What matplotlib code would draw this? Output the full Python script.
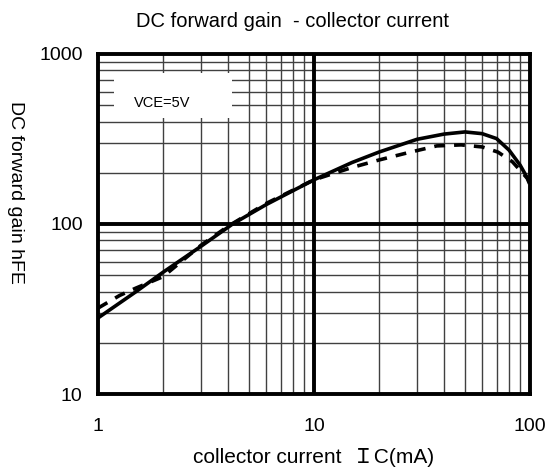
import matplotlib
matplotlib.use('Agg')
import matplotlib.pyplot as plt
import numpy as np

# collector current (mA) vs hFE
ic_solid = [1, 1.5, 2, 3, 4.2, 6, 10, 15, 20, 30, 40, 50, 60, 70, 80, 90, 100]
hfe_solid = [28, 40, 52, 74, 100, 130, 182, 230, 265, 315, 338, 348, 340, 318, 272, 222, 175]
ic_dash = [1, 1.26, 1.5, 2, 3, 4, 6, 10, 15, 20, 27, 37, 48, 60, 71, 83, 97, 100]
hfe_dash = [32, 38, 42, 49, 75, 97, 132, 182, 215, 238, 262, 288, 292, 284, 265, 232, 186, 170]

xticks = [1, 10, 100]
yticks = [10, 100, 1000]

plt.rcParams['font.family'] = ['Liberation Sans', 'Noto Sans CJK JP', 'DejaVu Sans']

fig = plt.figure(figsize=(5.52, 4.73), dpi=100)
ax = fig.add_axes([98/552, 1-394/473, 432/552, 340/473])
ax.set_xscale('log')
ax.set_yscale('log')
ax.set_xlim(1, 100)
ax.set_ylim(10, 1000)

# minor grid
for dec in [1, 10]:
    for m in range(2, 10):
        ax.axvline(dec*m, color='#404040', lw=1.0, zorder=1)
        ax.axhline(dec*10*m, color='#404040', lw=1.0, zorder=1)
ax.axvline(10, color='black', lw=2.8, zorder=2)
ax.axhline(100, color='black', lw=2.8, zorder=2)

ax.plot(ic_solid, hfe_solid, color='black', lw=2.6, zorder=5, solid_capstyle='butt')
ax.plot(ic_dash, hfe_dash, color='black', lw=2.6, ls=(0, (3, 2.5)), zorder=5)

# white legend box over the grid
ax.fill_between([1.186, 4.17], [421, 421], [773, 773], color='white', zorder=3, lw=0)
ax.text(1.47, 515, 'VCE=5V', fontsize=10.5, va='center', ha='left', zorder=4)

for s in ax.spines.values():
    s.set_linewidth(2.8)
    s.set_zorder(6)
ax.set_xticks(xticks)
ax.set_xticklabels(['1', '10', '100'])
ax.set_yticks(yticks)
ax.set_yticklabels(['10', '100', '1000'])
ax.minorticks_off()
ax.tick_params(length=0, labelsize=14)
ax.tick_params(axis='x', pad=17)
ax.tick_params(axis='y', pad=11)

fig.text(292/552, 1-21/473, 'DC forward gain  - collector current', fontsize=14.5,
         ha='center', va='center')
fig.text(193/552, 1-457/473, 'collector current  ＩC(mA)', fontsize=15,
         ha='left', va='center')
fig.text(15/552, 1-192/473, 'DC forward gain hFE', fontsize=14, rotation=270,
         ha='center', va='center')

fig.savefig('out.png', dpi=100)
